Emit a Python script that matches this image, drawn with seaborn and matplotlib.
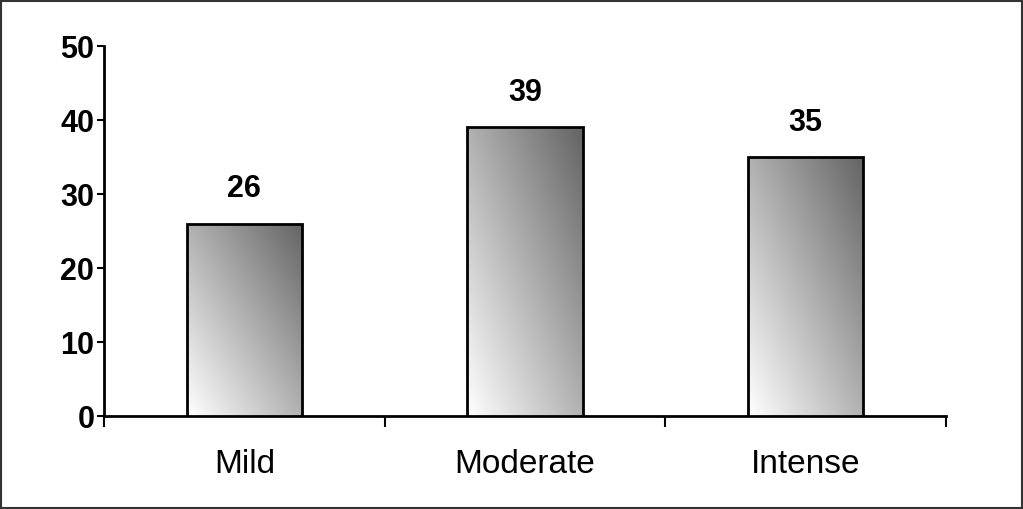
import matplotlib
matplotlib.use("Agg")
import matplotlib.pyplot as plt
import seaborn as sns
import numpy as np
import pandas as pd
from matplotlib.patches import Rectangle
from matplotlib.colors import LinearSegmentedColormap

categories = ["Mild", "Moderate", "Intense"]
values = [26, 39, 35]
yticks = [0, 10, 20, 30, 40, 50]

sns.set_theme(style="white")
plt.rcParams['font.family'] = ['Liberation Sans', 'DejaVu Sans']
narrow = ['Liberation Sans Narrow', 'Liberation Sans', 'DejaVu Sans']

df = pd.DataFrame({"cat": categories, "val": values})

fig = plt.figure(figsize=(10.23, 5.09), dpi=100)
ax = fig.add_axes([104/1023, 1-416/509, (946-104)/1023, (416-46)/509])

sns.barplot(data=df, x="cat", y="val", ax=ax, width=0.41, color="white",
            edgecolor="black", linewidth=2, zorder=3)

cmap = LinearSegmentedColormap.from_list("g", ["#ffffff", "#646464"])
n = 200
xx, yy = np.meshgrid(np.linspace(0, 1, n), np.linspace(0, 1, n))
grad = (xx + yy) / 2
for p in ax.patches:
    x0, y0 = p.get_x(), p.get_y()
    w, h = p.get_width(), p.get_height()
    im = ax.imshow(grad, cmap=cmap, origin="lower", aspect="auto", vmin=0, vmax=1,
                   extent=[x0, x0 + w, y0, y0 + h], zorder=3.5, interpolation="bilinear")
    im.set_clip_path(p)
    p.set_zorder(4)
    p.set_facecolor("none")
    ax.annotate(f"{int(round(y0 + h))}", (x0 + w/2, y0 + h), xytext=(0, 14),
                textcoords="offset points", ha="center", va="bottom",
                fontsize=22, fontweight="bold", color="black", family=narrow)

ax.set_xlim(-0.5, 2.5)
ax.set_ylim(0, 50)
ax.set_yticks(yticks)
ax.set_yticklabels([str(t) for t in yticks], fontsize=22, fontweight="bold", family=narrow)
ax.set_xticks(range(len(categories)))
ax.set_xticklabels(categories, fontsize=24)
ax.set_xticks([-0.5, 0.5, 1.5, 2.5], minor=True)
ax.tick_params(axis="x", which="major", length=0, pad=24, colors="black")
ax.tick_params(axis="x", which="minor", length=8, width=1.5, direction="out", bottom=True, color="black")
ax.tick_params(axis="y", which="major", length=5, width=1.5, direction="out", left=True, pad=2, colors="black")
ax.set_xlabel("")
ax.set_ylabel("")
for s in ["top", "right"]:
    ax.spines[s].set_visible(False)
for s in ["left", "bottom"]:
    ax.spines[s].set_color("black")
    ax.spines[s].set_linewidth(2)
ax.grid(False)

fig.patches.append(Rectangle((0.0005, 0.001), 0.999, 0.998, transform=fig.transFigure,
                             fill=False, edgecolor="#333333", linewidth=1.5))

fig.savefig("out.png", dpi=100)
